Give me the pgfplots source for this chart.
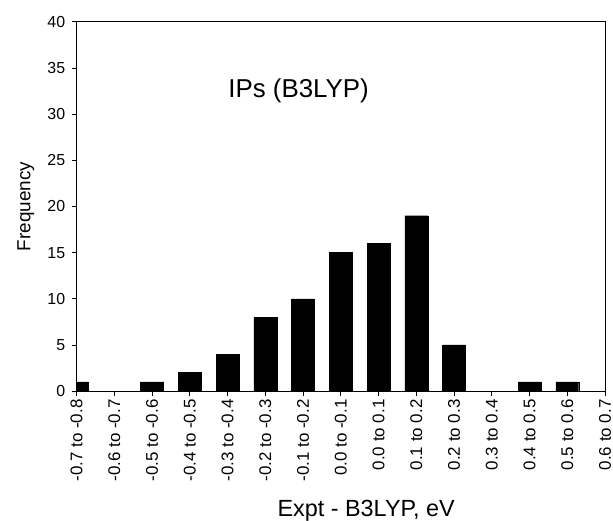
\documentclass[border=0pt]{standalone}
\usepackage{fontspec}
\setmainfont{Liberation Sans}
\usepackage{pgfplots}
\pgfplotsset{compat=1.18}

\begin{document}
\begin{tikzpicture}
    \begin{axis}[
        at={(0,0)}, anchor=south west,
        scale only axis,
        width=531bp, height=371bp,
        xmin=0, xmax=14, ymin=0, ymax=40,
        ybar, bar width=23bp,
        xtick={0,...,14},
        xticklabels={-0.7 to -0.8, -0.6 to -0.7, -0.5 to -0.6, -0.4 to -0.5,
            -0.3 to -0.4, -0.2 to -0.3, -0.1 to -0.2, 0.0 to -0.1, 0.0 to 0.1,
            0.1 to 0.2, 0.2 to 0.3, 0.3 to 0.4, 0.4 to 0.5, 0.5 to 0.6, 0.6 to 0.7},
        ytick={0,5,...,40},
        xtick pos=bottom, ytick pos=left,
        tick align=outside,
        major tick length=5bp,
        axis line style={line width=1bp},
        tick style={black, line width=0.8bp},
        /pgf/number format/assume math mode=true,
        x tick label style={rotate=90, anchor=east, font=\fontsize{17bp}{20bp}\selectfont},
        y tick label style={font=\fontsize{16bp}{19bp}\selectfont, xshift=-3bp},
        xlabel={Expt - B3LYP, eV},
        ylabel={Frequency},
        every axis x label/.style={at={(axis description cs:0.548,0)}, anchor=base,
            yshift=-126bp, font=\fontsize{23.5bp}{27bp}\selectfont},
        every axis y label/.style={at={(axis description cs:0,0.5)}, xshift=-51bp,
            anchor=center, rotate=90, font=\fontsize{19bp}{23bp}\selectfont},
    ]
        \addplot[fill=black, draw=black] coordinates {
            (0,1) (1,0) (2,1) (3,2) (4,4) (5,8) (6,10) (7,15)
            (8,16) (9,19) (10,5) (11,0) (12,1) (13,1) (14,0)};
        \node[anchor=base, font=\fontsize{26bp}{31bp}\selectfont] at (axis cs:5.88,31.8) {IPs (B3LYP)};
    \end{axis}
    \pgfresetboundingbox
    \path (-77bp,-130bp) rectangle (539bp,393bp);
\end{tikzpicture}
\end{document}
